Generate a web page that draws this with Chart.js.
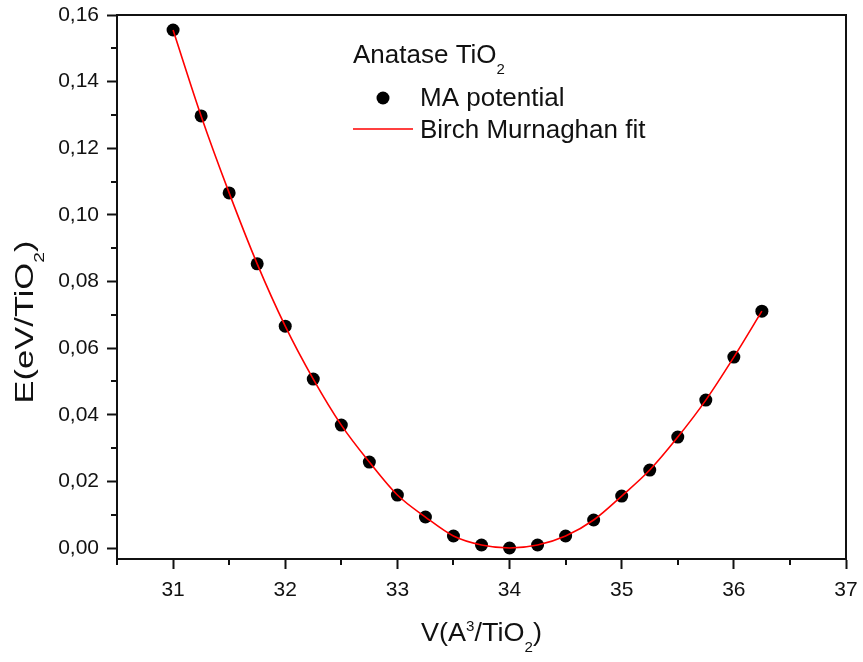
<!DOCTYPE html>
<html>
<head>
<meta charset="utf-8">
<title>Anatase TiO2 - E(V)</title>
<script src="https://cdn.jsdelivr.net/npm/chart.js@4"></script>
<style>
  html, body { margin: 0; padding: 0; background: #fff; }
  #wrap { width: 863px; height: 662px; }
</style>
</head>
<body>
<div id="wrap"><canvas id="evChart" width="863" height="662"></canvas></div>
<script>
// volume per formula unit (A^3/TiO2)
var volumes = [31, 31.25, 31.5, 31.75, 32, 32.25, 32.5, 32.75, 33, 33.25, 33.5,
               33.75, 34, 34.25, 34.5, 34.75, 35, 35.25, 35.5, 35.75, 36, 36.25];
// energy relative to minimum (eV/TiO2)
var energies = [0.1555, 0.1297, 0.1066, 0.0853, 0.0666, 0.0507, 0.0369, 0.0258, 0.0159, 0.0093, 0.0036,
                0.0009, 0.0000, 0.0009, 0.0036, 0.0084, 0.0156, 0.0234, 0.0333, 0.0444, 0.0573, 0.0711];
var xTicks = [31, 32, 33, 34, 35, 36, 37];
var yTicks = [0, 0.02, 0.04, 0.06, 0.08, 0.10, 0.12, 0.14, 0.16];

var FONT = '"Liberation Sans", Arial, sans-serif';
var TXT = '#111';

var points = volumes.map(function (v, i) { return { x: v, y: energies[i] }; });

// text with a raised/lowered little suffix, e.g. TiO + "2"
function drawParts(ctx, parts, x, y, size) {
  var cx = x;
  parts.forEach(function (p) {
    var s = p.sub || p.sup ? Math.round(size * 0.58) : size;
    ctx.font = s + 'px ' + FONT;
    var dy = p.sub ? size * 0.42 : (p.sup ? -size * 0.42 : 0);
    ctx.fillText(p.t, cx, y + dy);
    cx += ctx.measureText(p.t).width;
  });
  return cx - x;
}
function partsWidth(ctx, parts, size) {
  var w = 0;
  parts.forEach(function (p) {
    var s = p.sub || p.sup ? Math.round(size * 0.58) : size;
    ctx.font = s + 'px ' + FONT;
    w += ctx.measureText(p.t).width;
  });
  return w;
}

var decor = {
  id: 'decor',
  afterDraw: function (chart) {
    var ctx = chart.ctx, a = chart.chartArea;
    var xs = chart.scales.x, ys = chart.scales.y;
    ctx.save();
    ctx.strokeStyle = '#111';
    ctx.lineWidth = 2;
    // top and right of the frame
    ctx.beginPath();
    ctx.moveTo(a.left, a.top);
    ctx.lineTo(a.right, a.top);
    ctx.lineTo(a.right, a.bottom);
    ctx.stroke();

    // minor ticks between labelled ones
    ctx.beginPath();
    for (var v = 30.5; v < 37; v += 1) {
      var px = Math.round(xs.getPixelForValue(v));
      ctx.moveTo(px, a.bottom);
      ctx.lineTo(px, a.bottom + 6);
    }
    for (var e = 0.01; e < 0.16; e += 0.02) {
      var py = Math.round(ys.getPixelForValue(e));
      ctx.moveTo(a.left, py);
      ctx.lineTo(a.left - 6, py);
    }
    ctx.stroke();

    ctx.fillStyle = TXT;
    ctx.textBaseline = 'alphabetic';
    ctx.textAlign = 'left';

    // axis titles
    var xt = [{ t: 'V(A' }, { t: '3', sup: true }, { t: '/TiO' }, { t: '2', sub: true }, { t: ')' }];
    var w = partsWidth(ctx, xt, 25);
    ctx.save();
    ctx.translate((a.left + a.right) / 2, 641);
    ctx.scale(1.08, 1);
    drawParts(ctx, xt, -w / 2, 0, 25);
    ctx.restore();

    var yt = [{ t: 'E(eV/TiO' }, { t: '2', sub: true }, { t: ')' }];
    var wy = partsWidth(ctx, yt, 25);
    ctx.save();
    ctx.translate(33, 322);
    ctx.rotate(-Math.PI / 2);
    ctx.scale(1.38, 1);
    drawParts(ctx, yt, -wy / 2, 0, 25);
    ctx.restore();

    // legend block
    drawParts(ctx, [{ t: 'Anatase TiO' }, { t: '2', sub: true }], 353, 63, 26);
    ctx.beginPath();
    ctx.arc(383, 98, 6.5, 0, Math.PI * 2);
    ctx.fillStyle = '#000';
    ctx.fill();
    ctx.fillStyle = TXT;
    ctx.font = '26px ' + FONT;
    ctx.fillText('MA potential', 420, 106);
    ctx.strokeStyle = '#ff0000';
    ctx.lineWidth = 1.5;
    ctx.beginPath();
    ctx.moveTo(353, 129);
    ctx.lineTo(413, 129);
    ctx.stroke();
    ctx.fillText('Birch Murnaghan fit', 420, 138);
    ctx.restore();
  }
};

new Chart(document.getElementById('evChart'), {
  type: 'scatter',
  data: {
    datasets: [{
      label: 'Birch Murnaghan fit',
      data: points,
      showLine: true,
      borderColor: '#ff0000',
      borderWidth: 1.6,
      pointRadius: 0,
      cubicInterpolationMode: 'monotone'
    }, {
      label: 'MA potential',
      data: points,
      pointRadius: 6.5,
      pointBackgroundColor: '#000',
      pointBorderColor: '#000',
      pointBorderWidth: 0
    }]
  },
  options: {
    responsive: false,
    animation: false,
    layout: { padding: { top: 15, right: 17, left: 0, bottom: 0 } },
    plugins: { legend: { display: false }, tooltip: { enabled: false } },
    scales: {
      x: {
        type: 'linear',
        min: 30.5,
        max: 37,
        afterBuildTicks: function (s) { s.ticks = xTicks.map(function (v) { return { value: v }; }); },
        afterFit: function (s) {
          s.height = 103;
          s.paddingLeft = 0;
          s.paddingRight = 0;
        },
        grid: { drawOnChartArea: false, tickLength: 10, tickWidth: 2, tickColor: '#111' },
        border: { display: true, color: '#111', width: 2 },
        ticks: { padding: 9, color: TXT, font: { family: FONT, size: 21 }, maxRotation: 0 }
      },
      y: {
        type: 'linear',
        min: -0.0033,
        max: 0.16,
        afterBuildTicks: function (s) { s.ticks = yTicks.map(function (v) { return { value: v }; }); },
        afterFit: function (s) {
          s.width = 117;
          s.paddingTop = 0;
          s.paddingBottom = 0;
        },
        grid: { drawOnChartArea: false, tickLength: 10, tickWidth: 2, tickColor: '#111' },
        border: { display: true, color: '#111', width: 2 },
        ticks: {
          padding: 8, color: TXT, font: { family: FONT, size: 21 },
          callback: function (v) { return v.toFixed(2).replace('.', ','); }
        }
      }
    }
  },
  plugins: [decor]
});
</script>
</body>
</html>
